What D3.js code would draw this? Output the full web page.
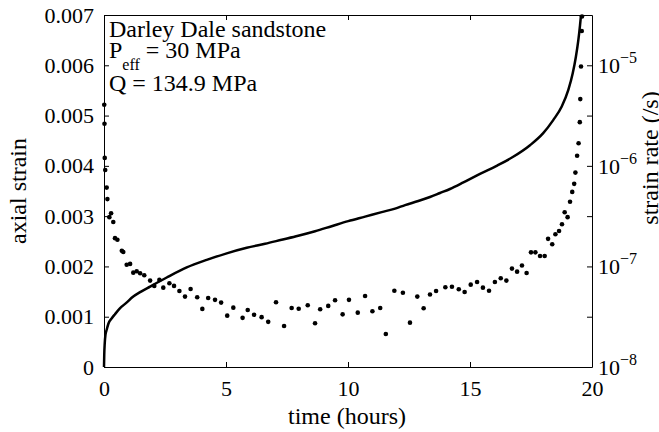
<!DOCTYPE html>
<html>
<head>
<meta charset="utf-8">
<script src="https://cdn.jsdelivr.net/npm/d3@7"></script>
</head>
<body style="margin:0;background:#fff">
<script>
// axial strain curve (time in hours, strain)
var curveTime = [0, 0.01, 0.03, 0.06, 0.11, 0.18, 0.32, 0.45, 0.66, 0.90, 1.20, 1.52, 1.89,
  2.57, 3.39, 4.21, 5.03, 5.85, 6.60, 7.28, 7.96, 8.65, 9.33, 10.01, 10.70, 11.38, 11.93,
  12.34, 12.88, 13.36, 13.77, 14.18, 14.73, 15.41, 16.09, 16.77, 17.46, 18.00, 18.41,
  18.76, 19.03, 19.21, 19.34, 19.44, 19.51, 19.55];
var curveStrain = [0, 0.00024, 0.00047, 0.00064, 0.00074, 0.00086, 0.00097, 0.00105, 0.00117,
  0.00127, 0.00140, 0.00150, 0.00160, 0.00178, 0.00198, 0.00213, 0.00226, 0.00237, 0.00245,
  0.00253, 0.00261, 0.00270, 0.00280, 0.00290, 0.00299, 0.00308, 0.00315, 0.00322, 0.00330,
  0.00338, 0.00346, 0.00354, 0.00367, 0.00384, 0.00400, 0.00418, 0.00441, 0.00465, 0.00491,
  0.00518, 0.00551, 0.00584, 0.00617, 0.00650, 0.00680, 0.00700];

// strain rate points (time in hours, rate in 1/s)
var rateTime = [0.01, 0.02, 0.03, 0.05, 0.11, 0.14, 0.29, 0.22, 0.38, 0.45, 0.55, 0.73, 0.79,
  0.93, 1.07, 1.20, 1.34, 1.48, 1.65, 1.89, 2.06, 2.27, 2.43, 2.68, 2.87, 3.09, 3.32, 3.55,
  3.82, 4.03, 4.27, 4.55, 4.80, 5.05, 5.30, 5.68, 5.89, 6.15, 6.46, 6.73, 7.05, 7.38, 7.69,
  7.98, 8.35, 8.65, 8.86, 9.19, 9.47, 9.78, 10.04, 10.40, 10.70, 11.00, 11.32, 11.55, 11.90,
  12.25, 12.54, 12.84, 13.10, 13.36, 13.61, 13.99, 14.26, 14.54, 14.78, 15.03, 15.29, 15.53,
  15.78, 16.02, 16.26, 16.49, 16.72, 16.93, 17.13, 17.32, 17.50, 17.68, 17.87, 18.06, 18.20,
  18.37, 18.50, 18.65, 18.77, 18.88, 19.00, 19.10, 19.19, 19.27, 19.32, 19.39, 19.45, 19.50,
  19.52, 19.55, 19.58, 19.59];
var rateValue = [4.05e-6, 2.62e-6, 1.20e-6, 9.1e-7, 6.08e-7, 4.67e-7, 3.38e-7, 3.09e-7, 2.77e-7,
  1.91e-7, 1.84e-7, 1.43e-7, 1.39e-7, 1.04e-7, 1.06e-7, 8.67e-8, 8.95e-8, 8.55e-8, 8.17e-8,
  7.23e-8, 6.40e-8, 7.35e-8, 6.15e-8, 6.81e-8, 6.40e-8, 5.70e-8, 5.01e-8, 5.97e-8, 4.94e-8,
  3.78e-8, 4.86e-8, 4.65e-8, 4.37e-8, 3.24e-8, 3.89e-8, 3.08e-8, 3.69e-8, 3.31e-8, 3.13e-8,
  2.81e-8, 4.41e-8, 2.56e-8, 3.86e-8, 3.80e-8, 4.11e-8, 2.72e-8, 3.75e-8, 4.05e-8, 4.61e-8,
  3.34e-8, 4.65e-8, 3.47e-8, 5.08e-8, 3.58e-8, 3.86e-8, 2.13e-8, 5.74e-8, 5.48e-8, 2.76e-8,
  5.01e-8, 3.84e-8, 5.26e-8, 5.70e-8, 6.21e-8, 6.29e-8, 5.93e-8, 5.57e-8, 6.59e-8, 7.01e-8,
  6.15e-8, 5.74e-8, 7.01e-8, 7.64e-8, 7.23e-8, 9.51e-8, 8.87e-8, 1.02e-7, 8.61e-8, 1.38e-7,
  1.38e-7, 1.27e-7, 1.27e-7, 1.88e-7, 1.66e-7, 2.09e-7, 2.25e-7, 2.63e-7, 3.46e-7, 3.09e-7,
  4.39e-7, 5.51e-7, 6.62e-7, 8.57e-7, 1.26e-6, 1.68e-6, 2.72e-6, 4.61e-6, 9.73e-6, 2.19e-5,
  3.06e-5];

// ticks
var timeTicks = [0, 5, 10, 15, 20];
var strainTicks = [0, 0.001, 0.002, 0.003, 0.004, 0.005, 0.006, 0.007];
var rateLabelTicks = [1e-8, 1e-7, 1e-6, 1e-5];
var rateLabelExp = ["\u22128", "\u22127", "\u22126", "\u22125"];
var rateHalfTicks = [3.162e-8, 3.162e-7, 3.162e-6];

var serif = "'Liberation Serif', 'Times New Roman'";

var width = 659, height = 432;
var margin = {top: 15, right: 67, bottom: 65, left: 104};
var w = width - margin.left - margin.right,
    h = height - margin.top - margin.bottom;

var svg = d3.select("body").append("svg")
  .attr("width", width)
  .attr("height", height)
  .style("display", "block");

var g = svg.append("g")
  .attr("transform", "translate(" + margin.left + "," + margin.top + ")");

var xScale = d3.scaleLinear().domain([0, 20]).range([0, w]);
var yScale = d3.scaleLinear().domain([0, 0.007]).range([h, 0]);
var rScale = d3.scaleLog().domain([1e-8, Math.pow(10, -4.5)]).range([h, 0]);

// axes, ticks pointing inward
var xAxis = d3.axisBottom(xScale).tickValues(timeTicks).tickSizeInner(-5).tickSizeOuter(0).tickPadding(13);
var xTop = d3.axisTop(xScale).tickValues(timeTicks.slice(1, 4)).tickSizeInner(-5).tickSizeOuter(0).tickFormat("");
var yAxis = d3.axisLeft(yScale).tickValues(strainTicks).tickSizeInner(-5).tickSizeOuter(0).tickPadding(10)
  .tickFormat(function(d) { return d === 0 ? "0" : d3.format(".3f")(d); });
var rAxis = d3.axisRight(rScale).tickValues(rateLabelTicks.concat(rateHalfTicks)).tickSizeInner(-5).tickSizeOuter(0).tickFormat("");

g.append("g").attr("class", "x axis").attr("transform", "translate(0," + h + ")").call(xAxis);
g.append("g").attr("class", "x top").call(xTop);
g.append("g").attr("class", "y axis").call(yAxis);
g.append("g").attr("class", "r axis").attr("transform", "translate(" + w + ",0)").call(rAxis);

g.selectAll(".axis").attr("font-family", null).attr("font-size", null);
g.selectAll(".axis text").style("font-family", serif).style("font-size", "22px").attr("fill", "#000");
g.selectAll(".domain, .tick line").attr("stroke", "#000");

// right axis labels 10^-n
var rLab = g.append("g").attr("class", "r labels");
rateLabelTicks.forEach(function(d, i) {
  var t = rLab.append("text")
    .attr("x", w + 6)
    .attr("y", rScale(d) + 8)
    .style("font-family", serif)
    .style("font-size", "22px");
  t.append("tspan").text("10");
  t.append("tspan").attr("dy", -10).style("font-size", "16px").text(rateLabelExp[i]);
});

// strain curve
var line = d3.line()
  .x(function(d, i) { return xScale(curveTime[i]); })
  .y(function(d) { return yScale(d); })
  .curve(d3.curveMonotoneX);

g.append("path")
  .datum(curveStrain)
  .attr("fill", "none")
  .attr("stroke", "#000")
  .attr("stroke-width", 2.5)
  .attr("d", line);

// strain rate dots
g.selectAll("circle")
  .data(rateValue)
  .enter()
  .append("circle")
  .attr("cx", function(d, i) { return xScale(rateTime[i]); })
  .attr("cy", function(d) { return rScale(d); })
  .attr("r", 2.3)
  .attr("fill", "#000");

// annotation
function label(x, y, size) {
  return svg.append("text").attr("x", x).attr("y", y)
    .style("font-family", serif).style("font-size", size + "px");
}
label(109, 37, 24).text("Darley Dale sandstone");
var p = label(109, 58, 24);
p.append("tspan").text("P");
p.append("tspan").attr("dy", 12).style("font-size", "16px").text("eff");
p.append("tspan").attr("dy", -12).text(" = 30 MPa");
label(109, 91, 24).text("Q = 134.9 MPa");

// axis titles
label(0, 0, 24)
  .attr("transform", "translate(26,191)rotate(-90)")
  .attr("text-anchor", "middle")
  .text("axial strain");

label(347, 424, 24)
  .attr("text-anchor", "middle")
  .text("time (hours)");

label(0, 0, 24)
  .attr("transform", "translate(658,158)rotate(-90)")
  .attr("text-anchor", "middle")
  .text("strain rate (/s)");
</script>
</body>
</html>
